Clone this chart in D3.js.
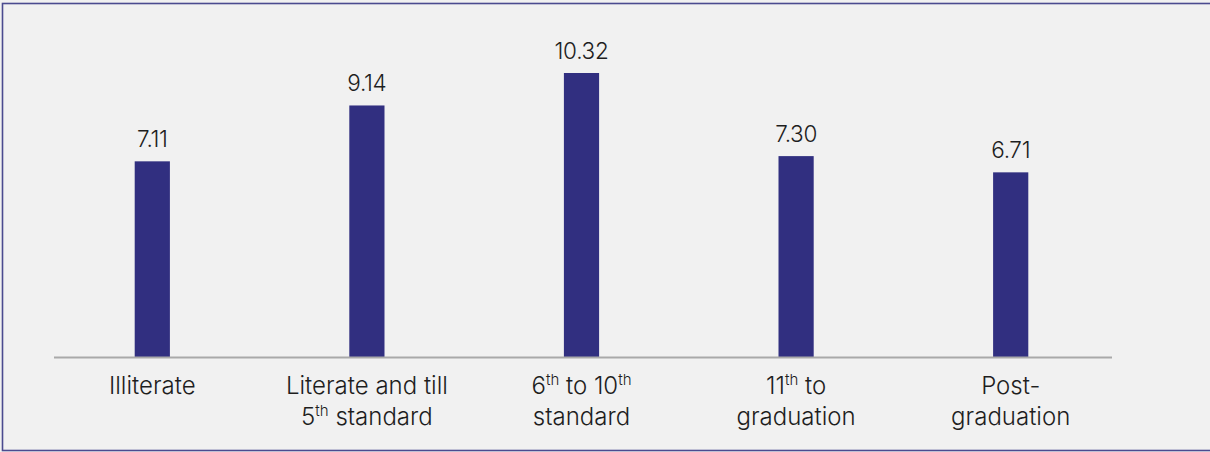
<!DOCTYPE html>
<html>
<head>
<meta charset="utf-8">
<script src="https://cdn.jsdelivr.net/npm/d3@7"></script>
<style>
  html, body { margin: 0; padding: 0; background: #f1f1f1; }
  svg { display: block; }
  text { font-family: "Inter", "Liberation Sans", sans-serif; fill: #1e1e1e; }
</style>
</head>
<body>
<svg id="chart" width="1210" height="452"></svg>
<script>
// Category labels: each line is a list of [text, isSuperscript] pieces
const categories = [
  [[["Illiterate", false]]],
  [[["Literate and till", false]], [["5", false], ["th", true], [" standard", false]]],
  [[["6", false], ["th", true], [" to 10", false], ["th", true]], [["standard", false]]],
  [[["11", false], ["th", true], [" to", false]], [["graduation", false]]],
  [[["Post-", false]], [["graduation", false]]]
];
const values = [7.11, 9.14, 10.32, 7.30, 6.71];
const valueLabels = ["7.11", "9.14", "10.32", "7.30", "6.71"];

const W = 1210, H = 452;
const svg = d3.select("#chart");

// frame
svg.append("rect")
  .attr("x", 2.5).attr("y", 3.5)
  .attr("width", W + 10).attr("height", H - 5)
  .attr("fill", "#f1f1f1")
  .attr("stroke", "#4b4b8f").attr("stroke-width", 1.6);

const x = d3.scaleBand()
  .domain(d3.range(values.length))
  .range([45, 1118])
  .paddingInner(0.836).paddingOuter(0.418);

const y = d3.scaleLinear().domain([0, 10.32]).range([357, 73]);

// bars
svg.append("g").selectAll("rect")
  .data(values)
  .join("rect")
  .attr("x", (d, i) => x(i))
  .attr("width", x.bandwidth())
  .attr("y", d => y(d))
  .attr("height", d => y(0) - y(d))
  .attr("fill", "#312f80");

// baseline
svg.append("line")
  .attr("x1", 54).attr("x2", 1112)
  .attr("y1", y(0) + 0.5).attr("y2", y(0) + 0.5)
  .attr("stroke", "#a9a9a9").attr("stroke-width", 2);

// value labels
svg.append("g").selectAll("text")
  .data(values)
  .join("text")
  .attr("x", (d, i) => x(i) + x.bandwidth() / 2)
  .attr("y", d => y(d) - 14)
  .attr("text-anchor", "middle")
  .style("font-size", "22.5px")
  .style("font-weight", 300)
  .style("letter-spacing", "-0.3px")
  .text((d, i) => valueLabels[i]);

// category labels
const cat = svg.append("g").selectAll("text")
  .data(categories)
  .join("text")
  .attr("text-anchor", "middle")
  .style("font-size", "24px")
  .style("font-weight", 300)
  .attr("transform", (d, i) => `translate(${x(i) + x.bandwidth() / 2},394)`);

cat.each(function(lines) {
  const t = d3.select(this);
  lines.forEach((pieces, li) => {
    pieces.forEach((p, pi) => {
      const ts = t.append("tspan").text(p[0]);
      if (pi === 0) ts.attr("x", 0).attr("y", li * 30.5);
      if (p[1]) {
        ts.style("font-size", "15px").attr("dy", -9);
      } else if (pi > 0 && pieces[pi - 1][1]) {
        ts.attr("dy", 9);
      }
    });
  });
});
</script>
</body>
</html>
